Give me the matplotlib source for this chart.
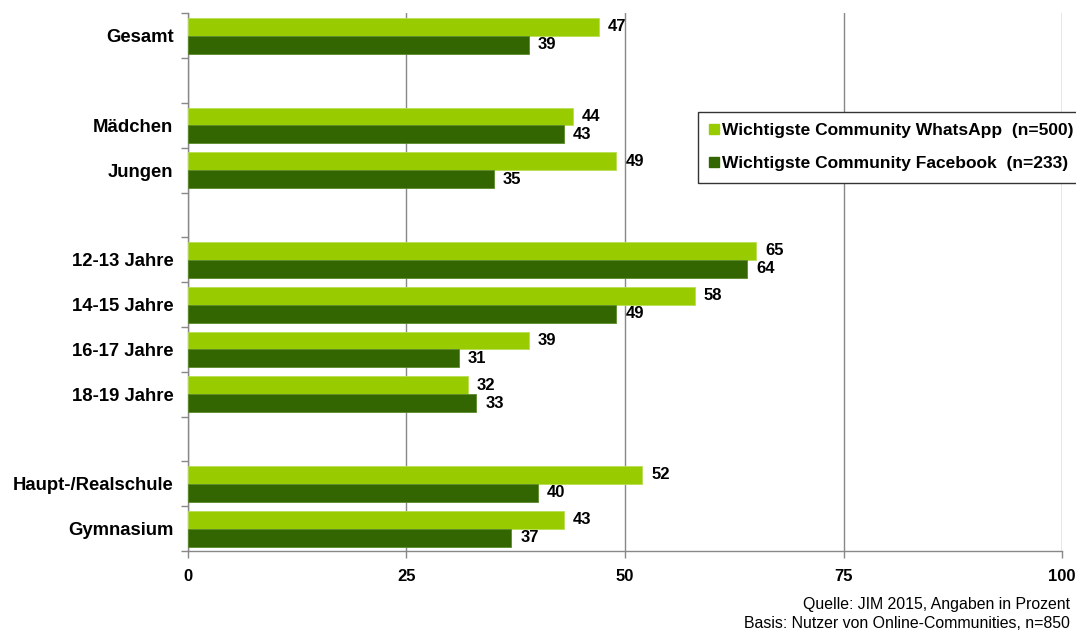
import matplotlib
matplotlib.use("Agg")
import matplotlib.pyplot as plt
import numpy as np

plt.rcParams['font.family'] = ['Liberation Sans', 'DejaVu Sans']

# Categories from top to bottom; empty strings are spacer rows
categories = ["Gesamt", "", "Mädchen", "Jungen", "", "12-13 Jahre", "14-15 Jahre",
              "16-17 Jahre", "18-19 Jahre", "", "Haupt-/Realschule", "Gymnasium"]
whatsapp = [47, None, 44, 49, None, 65, 58, 39, 32, None, 52, 43]
facebook = [39, None, 43, 35, None, 64, 49, 31, 33, None, 40, 37]
x_ticks = [0, 25, 50, 75, 100]
legend_labels = ["Wichtigste Community WhatsApp  (n=500)",
                 "Wichtigste Community Facebook  (n=233)"]
source_lines = ["Quelle: JIM 2015, Angaben in Prozent",
                "Basis: Nutzer von Online-Communities, n=850"]

light_green = "#99CC00"
dark_green = "#336600"

fig = plt.figure(figsize=(10.76, 6.33), dpi=100)
ax = fig.add_axes([0.1747, 0.1295, 0.8123, 0.8492])

n = len(categories)
slots = np.arange(n)
bar_h = 0.4

for i, (w, f) in enumerate(zip(whatsapp, facebook)):
    if w is None:
        continue
    yw = i - bar_h / 2
    yf = i + bar_h / 2
    ax.barh(yw, w, height=bar_h, color=light_green, edgecolor="#b8dd55", linewidth=0.6, zorder=3)
    ax.barh(yf, f, height=bar_h, color=dark_green, edgecolor="#5a8a2a", linewidth=0.6, zorder=3)
    ax.annotate(f"{w}", (w, yw), xytext=(6.5, 0), textcoords="offset points",
                va="center", ha="left", fontsize=12, fontweight="bold")
    ax.annotate(f"{f}", (f, yf), xytext=(6.5, 0), textcoords="offset points",
                va="center", ha="left", fontsize=12, fontweight="bold")

ax.set_ylim(n - 0.5, -0.5)
ax.set_xlim(0, 100)

# category labels at slot centres, tick marks at slot boundaries
ax.set_yticks(slots)
ax.set_yticklabels(categories, fontsize=13.3, fontweight="bold")
ax.tick_params(axis="y", which="major", length=0, pad=10.5)
ax.set_yticks(np.arange(-0.5, n, 1.0), minor=True)
ax.tick_params(axis="y", which="minor", length=5, color="#888888", width=1)

ax.set_xticks(x_ticks)
ax.set_xticklabels([str(t) for t in x_ticks], fontsize=12, fontweight="bold")
ax.tick_params(axis="x", length=5, color="#888888", width=1, pad=8)

ax.grid(axis="x", color="#888888", linewidth=1, zorder=0)
for s in ["top", "right"]:
    ax.spines[s].set_visible(False)
for s in ["left", "bottom"]:
    ax.spines[s].set_color("#888888")
    ax.spines[s].set_linewidth(1)

handles = [plt.Rectangle((0, 0), 1, 1, color=light_green),
           plt.Rectangle((0, 0), 1, 1, color=dark_green)]
leg = ax.legend(handles, legend_labels, loc="upper left", bbox_to_anchor=(0.5835, 0.817),
                frameon=True, fancybox=False, edgecolor="#333333", framealpha=1,
                prop={"weight": "bold", "size": 12.5}, handlelength=0.55, handleheight=0.55,
                handletextpad=0.2, labelspacing=1.05, borderpad=0.65, borderaxespad=0)
leg.get_frame().set_linewidth(1)

fig.text(0.9945, 1 - 604 / 633, source_lines[0], ha="right", va="center", fontsize=11.4)
fig.text(0.9945, 1 - 623 / 633, source_lines[1], ha="right", va="center", fontsize=11.4)

fig.savefig("out.png", dpi=100)
